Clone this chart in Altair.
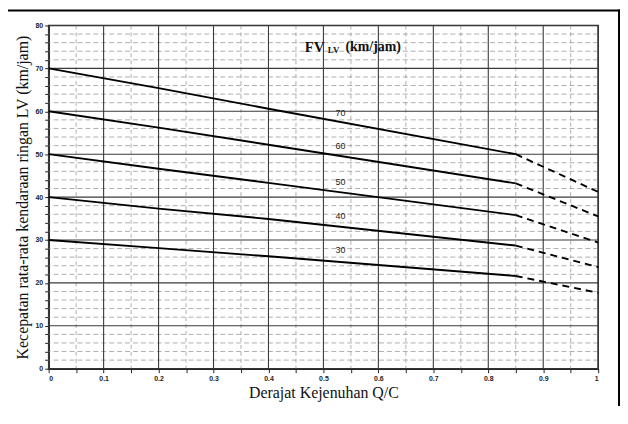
import altair as alt
import pandas as pd

# Data
fv_values = [70, 60, 50, 40, 30]
qc_solid = [0.0, 0.2, 0.4, 0.85]
speed_solid = {
    70: [70.0, 65.4, 60.6, 50.0],
    60: [60.0, 56.2, 52.2, 43.2],
    50: [50.0, 46.6, 43.3, 35.8],
    40: [40.0, 37.3, 34.9, 28.7],
    30: [30.0, 28.1, 26.2, 21.6],
}
qc_dashed = [0.85, 1.0]
speed_dashed = {
    70: [50.0, 41.2],
    60: [43.2, 35.5],
    50: [35.8, 29.4],
    40: [28.7, 23.7],
    30: [21.6, 17.7],
}
label_x = [0.531, 0.531, 0.531, 0.531, 0.531]
label_y = [59.7, 51.8, 43.6, 35.6, 27.6]
x_ticks = [round(i * 0.05, 2) for i in range(21)]
y_ticks = list(range(0, 81, 2))

rows_s, rows_d = [], []
for fv in fv_values:
    for q, s in zip(qc_solid, speed_solid[fv]):
        rows_s.append({"fv": fv, "qc": q, "v": s})
    for q, s in zip(qc_dashed, speed_dashed[fv]):
        rows_d.append({"fv": fv, "qc": q, "v": s})
df_s = pd.DataFrame(rows_s)
df_d = pd.DataFrame(rows_d)
df_lab = pd.DataFrame({"qc": label_x, "v": label_y, "t": [str(f) for f in fv_values]})

df_gx = pd.DataFrame({"qc": x_ticks, "major": [round(v * 100) % 10 == 0 for v in x_ticks]})
df_gy = pd.DataFrame({"v": y_ticks, "major": [v % 10 == 0 for v in y_ticks]})

xscale = alt.Scale(domain=[0, 1], nice=False)
yscale = alt.Scale(domain=[0, 80], nice=False)

x_axis = alt.Axis(
    values=x_ticks,
    title="Derajat Kejenuhan Q/C",
    grid=False,
    labelOverlap=False,
    labelExpr="(round(datum.value*100) % 10 === 0) ? ('' + round(datum.value*10)/10) : ''",
)
y_axis = alt.Axis(
    values=y_ticks,
    title="Kecepatan rata-rata kendaraan ringan LV (km/jam)",
    grid=False,
    labelOverlap=False,
    labelExpr="(datum.value % 10 === 0) ? ('' + datum.value) : ''",
)

grid_x_minor = alt.Chart(df_gx[~df_gx.major]).mark_rule(color="#9a9a9a", strokeWidth=0.8, strokeDash=[4, 3]).encode(
    x=alt.X("qc:Q", scale=xscale, axis=x_axis))
grid_x_major = alt.Chart(df_gx[df_gx.major]).mark_rule(color="#3a3a3a", strokeWidth=1.1).encode(
    x=alt.X("qc:Q", scale=xscale, axis=x_axis))
grid_y_minor = alt.Chart(df_gy[~df_gy.major]).mark_rule(color="#9a9a9a", strokeWidth=0.8, strokeDash=[5, 3]).encode(
    y=alt.Y("v:Q", scale=yscale, axis=y_axis))
grid_y_major = alt.Chart(df_gy[df_gy.major]).mark_rule(color="#3a3a3a", strokeWidth=1.1).encode(
    y=alt.Y("v:Q", scale=yscale, axis=y_axis))

solid = alt.Chart(df_s).mark_line(color="black", strokeWidth=1.9).encode(
    x=alt.X("qc:Q", scale=xscale, axis=x_axis),
    y=alt.Y("v:Q", scale=yscale, axis=y_axis),
    detail="fv:N",
)
dashed = alt.Chart(df_d).mark_line(color="black", strokeWidth=1.9, strokeDash=[7, 5]).encode(
    x=alt.X("qc:Q", scale=xscale, axis=x_axis),
    y=alt.Y("v:Q", scale=yscale, axis=y_axis),
    detail="fv:N",
)
labels = alt.Chart(df_lab).mark_text(font="Liberation Sans", fontSize=9, color="#222").encode(
    x=alt.X("qc:Q", scale=xscale, axis=x_axis),
    y=alt.Y("v:Q", scale=yscale, axis=y_axis),
    text="t:N",
)
fv_main = alt.Chart(pd.DataFrame({"qc": [0.466], "v": [75.0], "t": ["FV"]})).mark_text(
    font="Liberation Serif", fontSize=15, fontWeight="bold", align="left", color="#111").encode(
    x=alt.X("qc:Q", scale=xscale, axis=x_axis), y=alt.Y("v:Q", scale=yscale, axis=y_axis), text="t:N")
fv_sub = alt.Chart(pd.DataFrame({"qc": [0.508], "v": [74.2], "t": ["LV"]})).mark_text(
    font="Liberation Serif", fontSize=9, fontWeight="bold", align="left", color="#111").encode(
    x=alt.X("qc:Q", scale=xscale, axis=x_axis), y=alt.Y("v:Q", scale=yscale, axis=y_axis), text="t:N")
fv_unit = alt.Chart(pd.DataFrame({"qc": [0.540], "v": [75.0], "t": ["(km/jam)"]})).mark_text(
    font="Liberation Serif", fontSize=14, fontWeight="bold", align="left", color="#111").encode(
    x=alt.X("qc:Q", scale=xscale, axis=x_axis), y=alt.Y("v:Q", scale=yscale, axis=y_axis), text="t:N")

frame_right = alt.Chart(pd.DataFrame({"a": [0]})).mark_rule(color="black", strokeWidth=2).encode(
    x=alt.value(575), y=alt.value(-16), y2=alt.value(400))
frame_top = alt.Chart(pd.DataFrame({"a": [0]})).mark_rule(color="black", strokeWidth=2).encode(
    x=alt.value(-49), x2=alt.value(576), y=alt.value(-15))

chart = alt.layer(
    grid_x_minor, grid_y_minor, grid_x_major, grid_y_major,
    solid, dashed, labels, fv_main, fv_sub, fv_unit, frame_right, frame_top
).properties(
    width=554, height=346,
    autosize=alt.AutoSizeParams(type="none"),
    padding={"left": 41, "top": 16, "right": 22, "bottom": 36},
).configure_view(stroke="#222", strokeWidth=1.5).configure_axis(
    labelFont="Liberation Sans", labelFontSize=7, labelFontWeight="bold", labelColor="#222",
    titleFont="Liberation Serif", titleFontSize=16, titleFontWeight="normal", titleColor="#111",
    tickColor="#222", tickSize=4, domainColor="#222", domainWidth=1.5, labelOverlap=False,
).configure_axisX(titlePadding=3, labelPadding=2, labelOverlap=False).configure_axisY(
    titlePadding=5, labelPadding=2, labelOverlap=False)

chart.save("out.html", embed_options={"renderer": "svg", "actions": False})
